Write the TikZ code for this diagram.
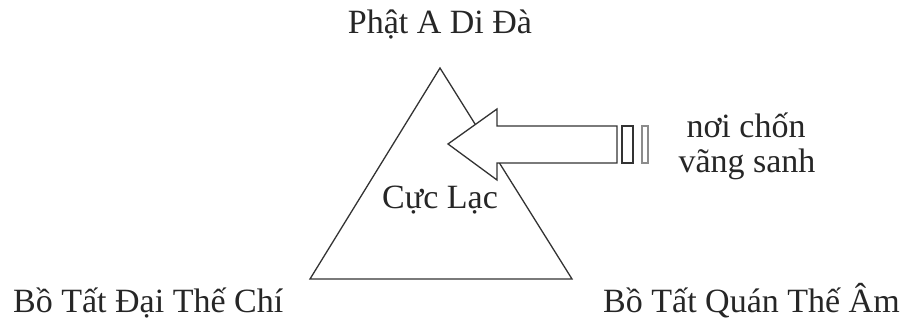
\documentclass[tikz,border=0pt]{standalone}
\usepackage{fontspec}
\setmainfont{Liberation Serif}
\begin{document}
\begin{tikzpicture}[x=1pt,y=-1pt,
  lbl/.style={inner sep=0pt,font=\fontsize{34}{40}\selectfont,text=black!85},
  shape line/.style={draw=black!80,line width=1.3pt,line join=miter}]
\useasboundingbox (0,0) rectangle (912,323);
\coordinate (apex) at (440,68);
\coordinate (bl) at (310,279);
\coordinate (br) at (572,279);
\draw[shape line] (apex) -- (br) -- (bl) -- cycle;
% block arrow
\draw[shape line,fill=white] (448,144) -- (497,109) -- (497,126) -- (617,126) -- (617,163)
  -- (497,163) -- (497,180) -- cycle;
\draw[draw=black!80,line width=1.2pt] (622,126) rectangle (633,163);
\draw[draw=black!45,line width=1.2pt] (642,126) rectangle (648,163);
\node[lbl,anchor=base] (top) at (440,34) {Phật A Di Đà};
\node[lbl,anchor=base] (center) at (440,208) {Cực Lạc};
\node[lbl,anchor=base] (n1) at (746,138) {nơi chốn};
\node[lbl,anchor=base] (n2) at (747,173) {vãng sanh};
\node[lbl,anchor=base west] (left) at (13,312) {Bồ Tất Đại Thế Chí};
\node[lbl,anchor=base west] (right) at (603,312) {Bồ Tất Quán Thế Âm};
\end{tikzpicture}
\end{document}
